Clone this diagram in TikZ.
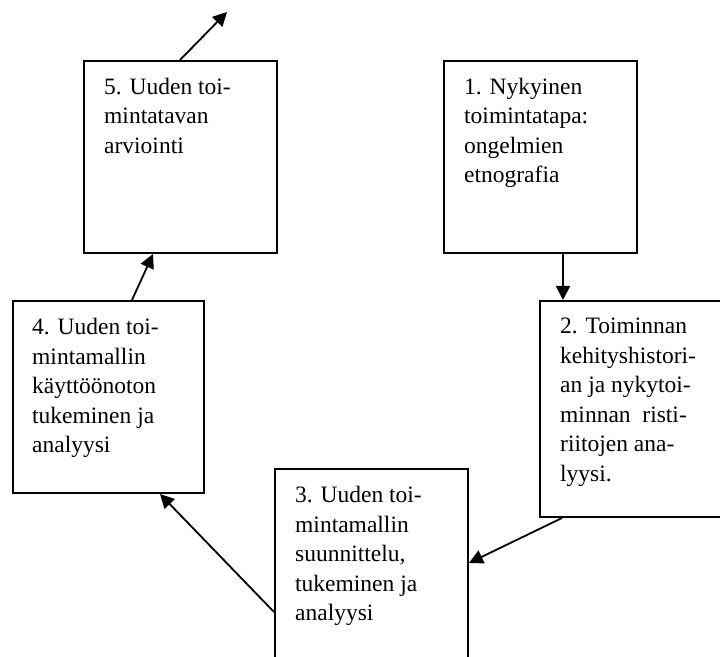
\documentclass[tikz,border=0pt]{standalone}
\usepackage{fontspec}
\setmainfont{Liberation Serif}
\usetikzlibrary{arrows.meta}
\begin{document}
\begin{tikzpicture}[x=1bp,y=1bp,
  stagebox/.style={draw, line width=2bp, rectangle, inner sep=0pt, anchor=north west},
  stagetext/.style={anchor=north west, inner sep=0pt, align=left,
    font=\fontsize{23.5bp}{29.5bp}\selectfont},
  flow/.style={line width=1.8bp, -{Triangle[length=14bp,width=14bp]}}]
  \useasboundingbox (0,0) rectangle (720,657);
  \clip (0,0) rectangle (720,657);
  \fill[white] (0,0) rectangle (720,657);

  % stage boxes
  \node[stagebox, minimum width=193bp, minimum height=192bp] (b5) at (83,597) {};
  \node[stagebox, minimum width=193bp, minimum height=192bp] (b1) at (443,597) {};
  \node[stagebox, minimum width=200bp, minimum height=216bp] (b2) at (539,357) {};
  \node[stagebox, minimum width=193bp, minimum height=225bp] (b3) at (274,189) {};
  \node[stagebox, minimum width=191bp, minimum height=192bp] (b4) at (12,357) {};

  % stage texts
  \node[stagetext] (t5) at ([shift={(21bp,-18bp)}]b5.north west)
    {5. Uuden toi-\\mintatavan\\arviointi};
  \node[stagetext] (t1) at ([shift={(21bp,-18bp)}]b1.north west)
    {1. Nykyinen\\toimintatapa:\\ongelmien\\etnografia};
  \node[stagetext] (t2) at ([shift={(21bp,-18bp)}]b2.north west)
    {2. Toiminnan\\kehityshistori-\\an ja nykytoi-\\minnan\ \ risti-\\riitojen ana-\\lyysi.};
  \node[stagetext] (t3) at ([shift={(21bp,-18bp)}]b3.north west)
    {3. Uuden toi-\\mintamallin\\suunnittelu,\\tukeminen ja\\analyysi};
  \node[stagetext] (t4) at ([shift={(20bp,-18bp)}]b4.north west)
    {4. Uuden toi-\\mintamallin\\käyttöönoton\\tukeminen ja\\analyysi};

  % connectors
  \coordinate (onward) at (227,645);
  \draw[flow] ([xshift=97bp]b5.north west) -- (onward);
  \draw[flow] ([xshift=120bp]b1.south west) -- ([xshift=24bp]b2.north west);
  \draw[flow] ([xshift=23bp]b2.south west) -- ([yshift=-95bp]b3.north east);
  \draw[flow] ([yshift=-144bp]b3.north west) -- ([xshift=148bp]b4.south west);
  \draw[flow] ([xshift=120bp]b4.north west) -- ([xshift=70bp]b5.south west);
\end{tikzpicture}
\end{document}
